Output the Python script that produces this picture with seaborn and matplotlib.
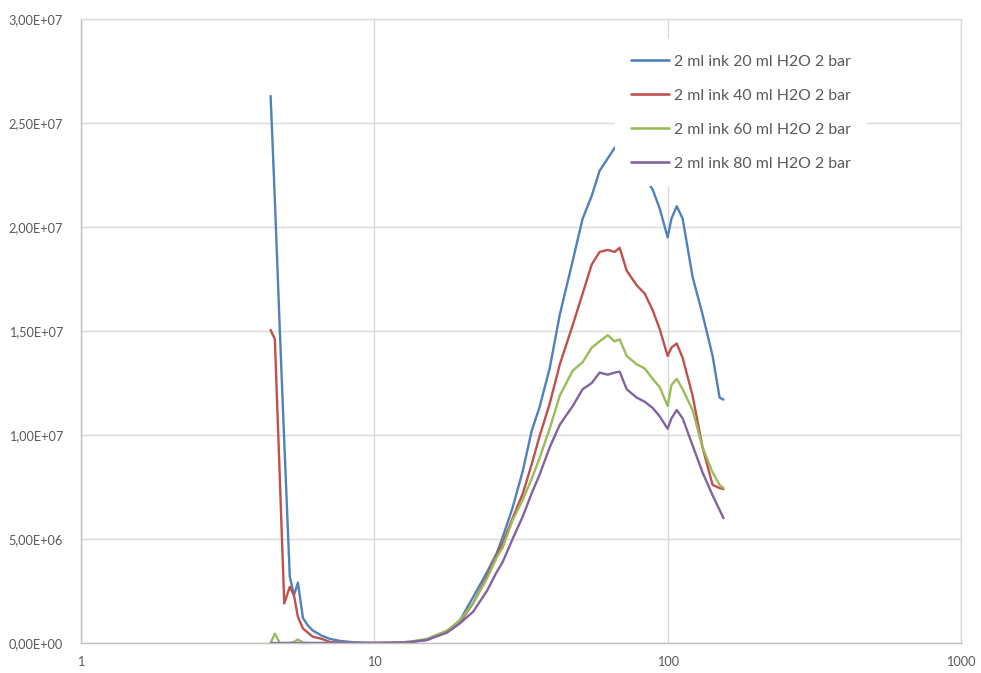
import matplotlib
matplotlib.use("Agg")
import matplotlib.pyplot as plt
from matplotlib.ticker import FuncFormatter, FixedLocator, NullLocator
import pandas as pd
import seaborn as sns

# Particle diameter (nm) and number concentration (values in millions)
diameter = [4.43, 4.58, 4.76, 4.93, 5.15, 5.32, 5.49, 5.71, 5.93, 6.17,
            6.62, 7.05, 7.63, 8.58, 10.0, 11.5, 13.2, 15.1, 17.7, 19.6,
            21.7, 24.2, 26.1, 27.4, 29.6, 32.1, 34.4, 36.6, 39.6, 42.9,
            47.5, 51.3, 55.1, 58.6, 62.5, 65.9, 68.6, 72.5, 78.4, 83.5,
            88.9, 93.9, 100, 103, 107.4, 112.5, 121.6, 131.5, 142.3, 150.3,
            155]

ink_20ml = [26.3, 21.3, 15.1, 9.7, 3.2, 2.3, 2.9, 1.2, 0.85, 0.6,
            0.35, 0.2, 0.1, 0.03, 0.0, 0.01, 0.05, 0.15, 0.55, 1.1,
            2.2, 3.4, 4.3, 5.1, 6.5, 8.3, 10.2, 11.35, 13.2, 15.8,
            18.4, 20.4, 21.5, 22.7, 23.3, 23.8, 24.0, 23.4, 22.1, 22.4,
            21.8, 20.9, 19.5, 20.4, 21.0, 20.4, 17.6, 15.8, 13.8, 11.8,
            11.7]

ink_40ml = [15.05, 14.6, 8.0, 1.9, 2.7, 2.3, 1.25, 0.7, 0.5, 0.3,
            0.2, 0.05, 0.02, 0.0, 0.0, 0.01, 0.05, 0.15, 0.55, 1.0,
            1.9, 3.2, 4.2, 4.8, 6.0, 7.2, 8.6, 9.95, 11.5, 13.4,
            15.3, 16.8, 18.2, 18.8, 18.9, 18.8, 19.0, 17.9, 17.2, 16.8,
            16.0, 15.1, 13.8, 14.2, 14.4, 13.7, 11.9, 9.4, 7.6, 7.45,
            7.4]

ink_60ml = [0.0, 0.45, 0.0, 0.0, 0.0, 0.05, 0.17, 0.02, 0.0, 0.0,
            0.0, 0.0, 0.0, 0.0, 0.0, 0.01, 0.06, 0.2, 0.6, 1.1,
            1.9, 3.1, 4.1, 4.6, 5.9, 6.9, 7.9, 8.9, 10.3, 11.9,
            13.1, 13.5, 14.2, 14.5, 14.8, 14.5, 14.6, 13.8, 13.4, 13.2,
            12.7, 12.3, 11.4, 12.4, 12.7, 12.2, 11.2, 9.4, 8.2, 7.6,
            7.45]

ink_80ml = [0.0, 0.0, 0.0, 0.0, 0.0, 0.0, 0.0, 0.0, 0.0, 0.0,
            0.0, 0.0, 0.0, 0.0, 0.0, 0.01, 0.04, 0.15, 0.5, 0.95,
            1.5, 2.5, 3.4, 3.9, 5.0, 6.1, 7.2, 8.1, 9.4, 10.5,
            11.4, 12.2, 12.5, 13.0, 12.9, 13.0, 13.05, 12.2, 11.8, 11.6,
            11.3, 10.9, 10.3, 10.8, 11.2, 10.8, 9.5, 8.2, 7.1, 6.4,
            6.0]

series_names = ["2 ml ink 20 ml H2O 2 bar", "2 ml ink 40 ml H2O 2 bar",
                "2 ml ink 60 ml H2O 2 bar", "2 ml ink 80 ml H2O 2 bar"]
series_values = [ink_20ml, ink_40ml, ink_60ml, ink_80ml]
colors = ["#4F81BD", "#C0504D", "#9BBB59", "#8064A2"]

x_ticks = [1, 10, 100, 1000]
y_ticks = [0, 5e6, 1e7, 1.5e7, 2e7, 2.5e7, 3e7]

frames = []
for name, vals in zip(series_names, series_values):
    frames.append(pd.DataFrame({"diameter": diameter,
                                "count": [v * 1e6 for v in vals],
                                "series": name}))
df = pd.concat(frames, ignore_index=True)

sns.set_theme(style="white")
plt.rcParams["font.family"] = ["Lato", "DejaVu Sans"]

fig = plt.figure(figsize=(9.81, 6.73), dpi=100, facecolor="white")
ax = fig.add_axes([81 / 981, 1 - 643 / 673, 880 / 981, 624 / 673])

sns.lineplot(data=df, x="diameter", y="count", hue="series",
             hue_order=series_names, palette=colors, linewidth=1.7,
             sort=False, legend=False, ax=ax)

ax.set_xscale("log")
ax.set_xlim(1, 1000)
ax.set_ylim(0, 3e7)
ax.xaxis.set_major_locator(FixedLocator(x_ticks))
ax.xaxis.set_minor_locator(NullLocator())
ax.xaxis.set_major_formatter(FuncFormatter(lambda v, p: f"{v:g}"))
ax.yaxis.set_major_locator(FixedLocator(y_ticks))
ax.yaxis.set_major_formatter(
    FuncFormatter(lambda v, p: f"{v:.2E}".replace(".", ",")))

ax.grid(True, color="#D9D9D9", linewidth=1.0)
ax.set_axisbelow(True)
for side in ["top", "right"]:
    ax.spines[side].set_color("#D9D9D9")
    ax.spines[side].set_linewidth(1.0)
for side in ["left", "bottom"]:
    ax.spines[side].set_color("#BFBFBF")
    ax.spines[side].set_linewidth(1.0)

ax.tick_params(axis="both", colors="#BFBFBF", labelcolor="#595959",
               labelsize=9.2, direction="out")
ax.tick_params(axis="x", length=6, pad=3)
ax.tick_params(axis="y", length=3, pad=10)
ax.set_xlabel("")
ax.set_ylabel("")

handles = [plt.Line2D([], [], color=c, linewidth=1.9) for c in colors]
leg = ax.legend(handles, series_names, loc="upper left",
                bbox_to_anchor=(0.607, 0.968), frameon=True,
                fontsize=11.4, handlelength=2.4, handletextpad=0.3,
                labelspacing=1.25, borderpad=1.0, borderaxespad=0.0)
leg.get_frame().set_facecolor("white")
leg.get_frame().set_edgecolor("none")
leg.get_frame().set_alpha(1.0)
for t in leg.get_texts():
    t.set_color("#595959")

fig.savefig("out.png", dpi=100, facecolor="white")
